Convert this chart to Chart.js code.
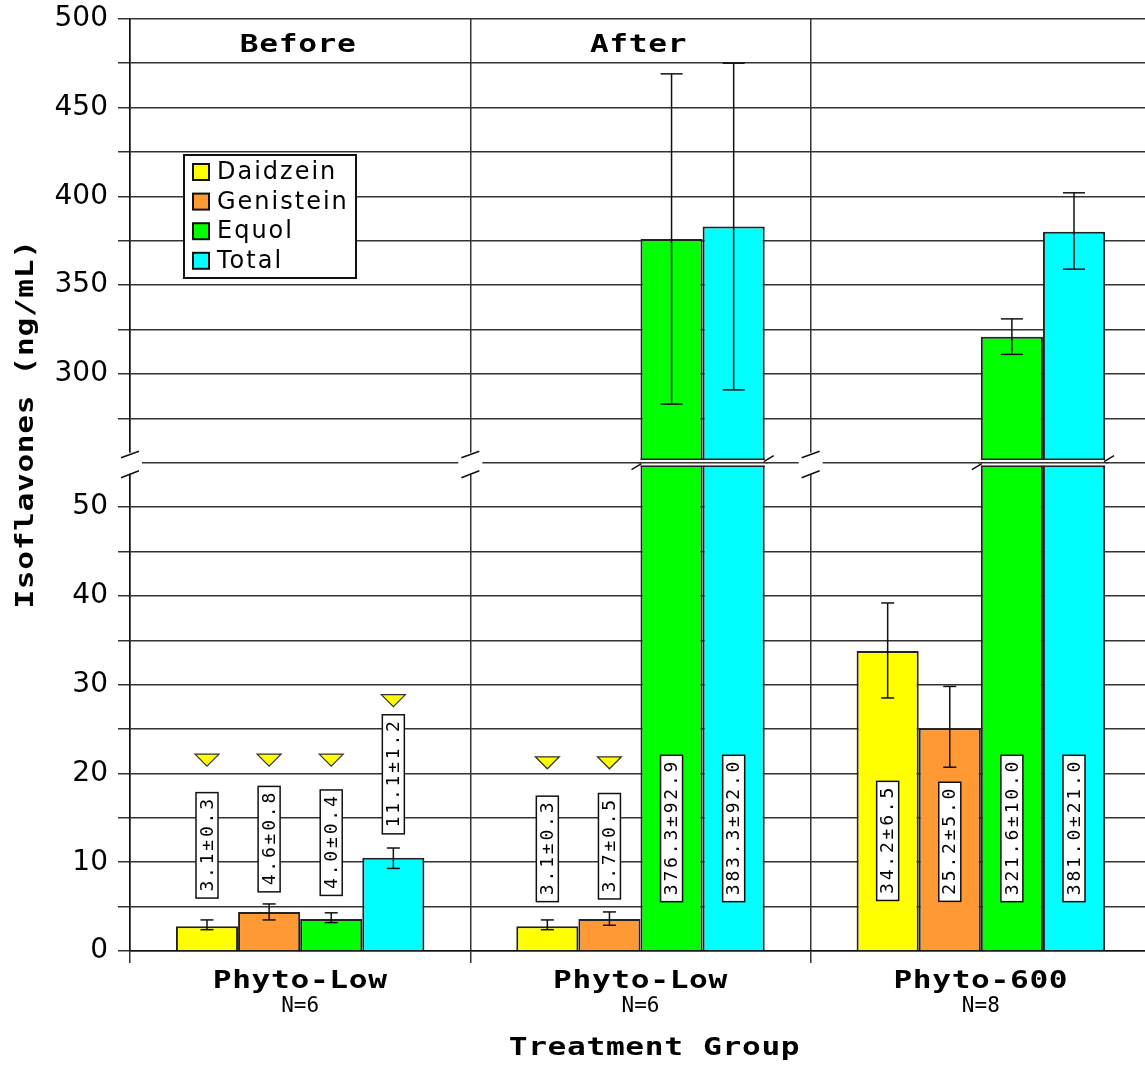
<!DOCTYPE html>
<html>
<head>
<meta charset="utf-8">
<script src="https://cdn.jsdelivr.net/npm/chart.js@4.4.0/dist/chart.umd.min.js"></script>
<style>
html, body { margin: 0; padding: 0; background: #fff; overflow: hidden; }
#wrap { position: absolute; left: 0; top: -8px; width: 1151px; height: 1073px; }
</style>
</head>
<body>
<div id="wrap"><canvas id="mycanvas"></canvas></div>
<script>
// groups on the x axis
var groups = ['Phyto-Low', 'Phyto-Low', 'Phyto-600'];
var groupN = ['N=6', 'N=6', 'N=8'];
var phases = ['Before', 'After', ''];

var seriesNames = ['Daidzein', 'Genistein', 'Equol', 'Total'];
var seriesColors = ['#ffff00', '#ff9933', '#00ff00', '#00ffff'];

// bar heights (ng/mL)
var daidzein  = [2.8, 2.8, 33.8];
var genistein = [4.4, 3.6, 25.1];
var equol     = [3.6, 376, 321];
var total     = [10.5, 383, 380];

// error bar ends
var daidzeinLo  = [2.4, 2.4, 28.5],  daidzeinHi  = [3.5, 3.5, 39.2];
var genisteinLo = [3.5, 2.9, 20.7],  genisteinHi = [5.3, 4.4, 29.8];
var equolLo     = [3.2, 283, 311],   equolHi     = [4.3, 469, 331];
var totalLo     = [9.3, 291, 359],   totalHi     = [11.6, 475, 402];

// boxed value labels and where their centres sit
var daidzeinText  = ['3.1±0.3', '3.1±0.3', '34.2±6.5'];
var genisteinText = ['4.6±0.8', '3.7±0.5', '25.2±5.0'];
var equolText     = ['4.0±0.4', '376.3±92.9', '321.6±10.0'];
var totalText     = ['11.1±1.2', '383.3±92.0', '381.0±21.0'];
var daidzeinTextAt  = [11.9, 11.5, 12.4];
var genisteinTextAt = [12.6, 11.8, 12.3];
var equolTextAt     = [12.2, 13.8, 13.8];
var totalTextAt     = [19.9, 13.8, 13.8];

// yellow markers above some bars (null = none)
var daidzeinMark  = [21.5, 21.2, null];
var genisteinMark = [21.5, 21.2, null];
var equolMark     = [21.5, null, null];
var totalMark     = [28.2, null, null];

var yTicks = [0, 10, 20, 30, 40, 50, 300, 350, 400, 450, 500];

// broken axis: 0-55 as is, 250-500 squeezed 5x on top of it
var BREAK_LO = 55, BREAK_HI = 250, SQUEEZE = 5;
function toAxis(v) { return v <= BREAK_LO ? v : BREAK_LO + (v - BREAK_HI) / SQUEEZE; }
function fromAxis(a) { return a <= BREAK_LO ? a : BREAK_HI + (a - BREAK_LO) * SQUEEZE; }

var values = [daidzein, genistein, equol, total];
var errLo = [daidzeinLo, genisteinLo, equolLo, totalLo];
var errHi = [daidzeinHi, genisteinHi, equolHi, totalHi];
var texts = [daidzeinText, genisteinText, equolText, totalText];
var textAt = [daidzeinTextAt, genisteinTextAt, equolTextAt, totalTextAt];
var marks = [daidzeinMark, genisteinMark, equolMark, totalMark];

var MONO = '"DejaVu Sans Mono", monospace';
var SANS = '"DejaVu Sans", Verdana, sans-serif';
var GRID = '#333';

function line(ctx, x1, y1, x2, y2) {
  ctx.beginPath(); ctx.moveTo(x1, y1); ctx.lineTo(x2, y2); ctx.stroke();
}

// the headings use a wide bold mono face, so stretch it sideways
function wideText(ctx, text, x, y, rot) {
  ctx.save();
  ctx.translate(x, y);
  if (rot) ctx.rotate(rot);
  ctx.scale(1.3, 1);
  ctx.fillText(text, 0, 0);
  ctx.restore();
}

var extras = {
  id: 'extras',
  afterDatasetsDraw: function(chart) {
    var ctx = chart.ctx, ys = chart.scales.y, xs = chart.scales.x, area = chart.chartArea;
    ctx.save();

    // error bars
    ctx.strokeStyle = '#111';
    ctx.lineWidth = 1.5;
    for (var d = 0; d < values.length; d++) {
      var meta = chart.getDatasetMeta(d);
      meta.data.forEach(function(bar, i) {
        var pLo = ys.getPixelForValue(toAxis(errLo[d][i]));
        var pHi = ys.getPixelForValue(toAxis(errHi[d][i]));
        var cap = errHi[d][i] > BREAK_HI ? 11 : 6.5;
        line(ctx, bar.x, pLo, bar.x, pHi);
        line(ctx, bar.x - cap, pLo, bar.x + cap, pLo);
        line(ctx, bar.x - cap, pHi, bar.x + cap, pHi);
      });
    }

    // yellow down triangles
    for (d = 0; d < values.length; d++) {
      meta = chart.getDatasetMeta(d);
      meta.data.forEach(function(bar, i) {
        if (marks[d][i] == null) return;
        var py = ys.getPixelForValue(marks[d][i]);
        ctx.beginPath();
        ctx.moveTo(bar.x - 12, py - 6);
        ctx.lineTo(bar.x + 12, py - 6);
        ctx.lineTo(bar.x, py + 6);
        ctx.closePath();
        ctx.fillStyle = '#ffff00';
        ctx.fill();
        ctx.lineWidth = 1.2;
        ctx.strokeStyle = '#333';
        ctx.stroke();
      });
    }

    // boxed rotated labels
    ctx.font = '18px ' + MONO;
    ctx.letterSpacing = '2.8px';
    ctx.textAlign = 'center';
    ctx.textBaseline = 'middle';
    for (d = 0; d < values.length; d++) {
      meta = chart.getDatasetMeta(d);
      meta.data.forEach(function(bar, i) {
        var py = ys.getPixelForValue(textAt[d][i]);
        var w = ctx.measureText(texts[d][i]).width + 10;
        ctx.save();
        ctx.translate(bar.x, py);
        ctx.rotate(-Math.PI / 2);
        ctx.fillStyle = '#fff';
        ctx.fillRect(-w / 2, -11, w, 22);
        ctx.strokeStyle = '#111';
        ctx.lineWidth = 1.5;
        ctx.strokeRect(-w / 2, -11, w, 22);
        ctx.fillStyle = '#000';
        ctx.fillText(texts[d][i], 1.5, 1);
        ctx.restore();
      });
    }
    ctx.letterSpacing = '0px';

    // axis break
    var y0 = ys.getPixelForValue(BREAK_LO);
    ctx.strokeStyle = '#111';
    ctx.lineWidth = 1.5;
    var vlines = [area.left];
    for (var i = 1; i < groups.length; i++) {
      vlines.push((xs.getPixelForValue(i - 1) + xs.getPixelForValue(i)) / 2);
    }
    vlines.forEach(function(x) {
      ctx.fillStyle = '#fff';
      ctx.fillRect(x - 12, y0 - 10, 24, 21);
      line(ctx, x - 9, y0 - 5, x + 9, y0 - 11.5);
      line(ctx, x - 9, y0 + 15, x + 9, y0 + 8);
    });
    for (i = 0; i < groups.length; i++) {
      var xl = null, xr = null;
      for (d = 0; d < values.length; d++) {
        if (values[d][i] <= BREAK_HI) continue;
        var b = chart.getDatasetMeta(d).data[i];
        var l = b.x - b.width / 2, r = b.x + b.width / 2;
        xl = xl == null ? l : Math.min(xl, l);
        xr = xr == null ? r : Math.max(xr, r);
      }
      if (xl == null) continue;
      ctx.fillStyle = '#fff';
      ctx.fillRect(xl - 1, y0 - 3, xr - xl + 2, 6);
      ctx.strokeStyle = '#222';
      line(ctx, xl, y0 - 3.5, xr, y0 - 3.5);
      line(ctx, xl, y0 + 3.5, xr, y0 + 3.5);
      ctx.strokeStyle = GRID;
      line(ctx, xl - 3, y0, xr + 3, y0);
      ctx.strokeStyle = '#111';
      line(ctx, xl - 9, y0 + 7, xl + 1, y0 + 1);
      line(ctx, xr - 1, y0 - 1, xr + 9, y0 - 7);
    }

    // legend box
    var lx = 184, ly = 155 + 8;
    ctx.fillStyle = '#fff';
    ctx.fillRect(lx, ly, 172, 123);
    ctx.strokeStyle = '#111';
    ctx.lineWidth = 2;
    ctx.strokeRect(lx, ly, 172, 123);
    ctx.font = '24px ' + SANS;
    ctx.letterSpacing = '2px';
    ctx.textAlign = 'left';
    ctx.textBaseline = 'middle';
    for (d = 0; d < seriesNames.length; d++) {
      var ry = ly + 17 + d * 29.6;
      ctx.fillStyle = seriesColors[d];
      ctx.fillRect(lx + 9, ry - 8, 16, 16);
      ctx.strokeStyle = '#111';
      ctx.lineWidth = 2;
      ctx.strokeRect(lx + 9, ry - 8, 16, 16);
      ctx.fillStyle = '#000';
      ctx.fillText(seriesNames[d], lx + 33, ry + 1);
    }

    // phase headings, group labels, axis titles
    ctx.fillStyle = '#000';
    ctx.textAlign = 'center';
    ctx.font = 'bold 24px ' + MONO;
    ctx.letterSpacing = '0.5px';
    for (i = 0; i < groups.length; i++) {
      var cx = xs.getPixelForValue(i);
      if (phases[i]) wideText(ctx, phases[i], cx - 2, area.top + 27);
      wideText(ctx, groups[i], cx, area.bottom + 31);
    }
    wideText(ctx, 'Treatment Group', (area.left + area.right) / 2 + 14, area.bottom + 98);
    wideText(ctx, 'Isoflavones (ng/mL)', 27, 424 + 8, -Math.PI / 2);
    ctx.letterSpacing = '0px';
    ctx.font = '21px ' + MONO;
    for (i = 0; i < groups.length; i++) {
      ctx.fillText(groupN[i], xs.getPixelForValue(i), area.bottom + 56);
    }
    ctx.restore();
  }
};

var chartdata = {
  labels: groups,
  datasets: seriesNames.map(function(name, d) {
    return {
      label: name,
      data: values[d].map(toAxis),
      backgroundColor: seriesColors[d],
      borderColor: '#222',
      borderWidth: 2,
      categoryPercentage: 0.73,
      barPercentage: 1.0
    };
  })
};

var ctx = document.getElementById('mycanvas');
var barGraph = new Chart(ctx, {
  type: 'bar',
  data: chartdata,
  plugins: [extras],
  options: {
    responsive: true,
    maintainAspectRatio: false,
    animation: false,
    layout: { padding: { top: 17, right: 0, left: 0, bottom: 0 } },
    plugins: {
      legend: { display: false },
      tooltip: { enabled: false }
    },
    scales: {
      x: {
        offset: true,
        grid: { offset: true, color: GRID, lineWidth: 1.5, tickLength: 12, drawTicks: true },
        border: { color: '#111', width: 1.5 },
        ticks: { display: false },
        afterFit: function(s) { s.height = 114; }
      },
      y: {
        min: 0,
        max: 105,
        grid: { color: GRID, lineWidth: 1.5, tickLength: 12 },
        border: { color: '#111', width: 1.5 },
        ticks: {
          stepSize: 5,
          autoSkip: false,
          padding: 10,
          color: '#000',
          font: { family: SANS, size: 28 },
          callback: function(v) {
            var real = Math.round(fromAxis(v));
            return yTicks.indexOf(real) >= 0 ? String(real) : '';
          }
        },
        afterFit: function(s) { s.width = 130; }
      }
    }
  }
});
</script>
</body>
</html>
